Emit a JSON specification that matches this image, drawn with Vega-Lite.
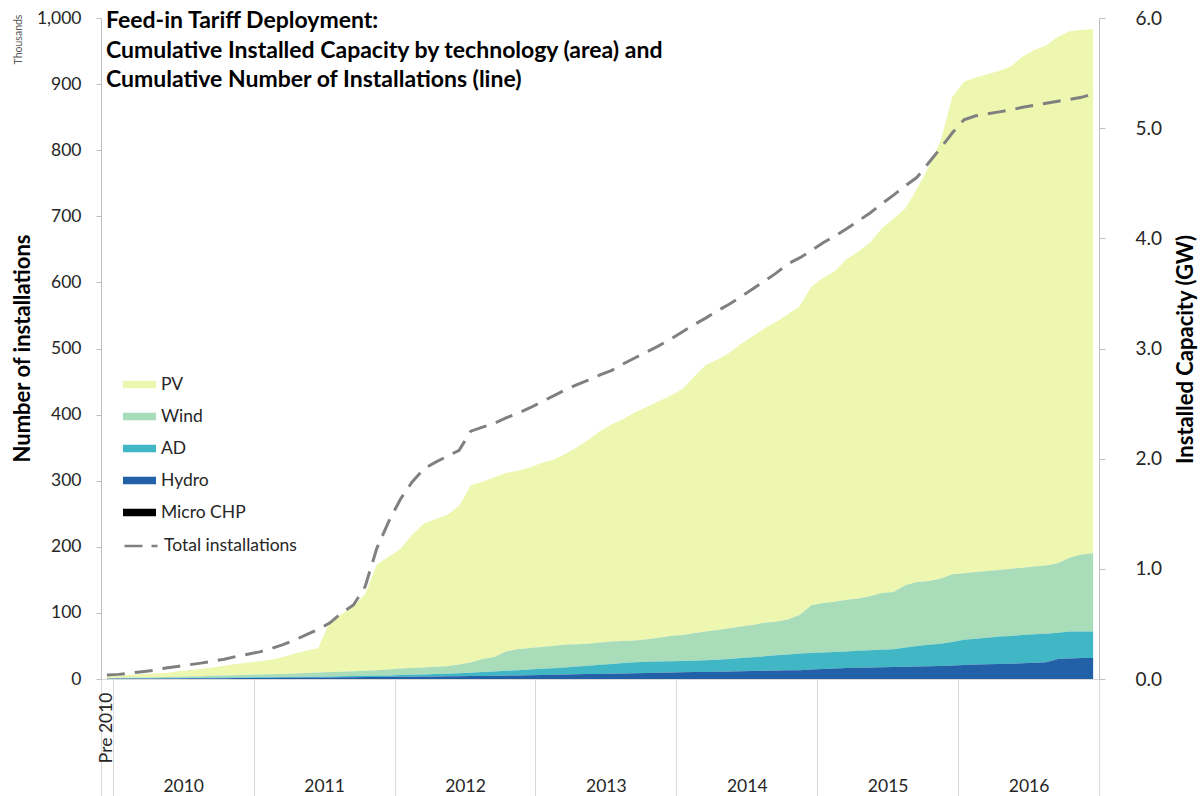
{
  "$schema": "https://vega.github.io/schema/vega-lite/v6.json",
  "width": 998,
  "height": 661,
  "autosize": {"type": "none"},
  "padding": {"left": 101, "top": 18, "right": 102, "bottom": 117},
  "background": "white",
  "title": {
    "text": ["Feed-in Tariff Deployment:", "Cumulative Installed Capacity by technology (area) and", "Cumulative Number of Installations (line)"],
    "anchor": "start", "frame": "group", "orient": "top",
    "font": "Lato", "fontSize": 23, "fontWeight": "bold", "color": "#000000",
    "lineHeight": 29.5, "baseline": "top", "offset": 0, "dx": 5, "dy": 83
  },
  "datasets": {
    "fit": [
      {"t": -0.5, "PV": 0.019, "Wind": 0.004, "AD": 0.002, "Hydro": 0.002, "Micro CHP": 0.0005, "inst": 6},
      {"t": 0.5, "PV": 0.022, "Wind": 0.005, "AD": 0.002, "Hydro": 0.003, "Micro CHP": 0.0005, "inst": 7},
      {"t": 1.5, "PV": 0.026, "Wind": 0.006, "AD": 0.003, "Hydro": 0.003, "Micro CHP": 0.0005, "inst": 9},
      {"t": 2.5, "PV": 0.030, "Wind": 0.008, "AD": 0.002, "Hydro": 0.004, "Micro CHP": 0.0005, "inst": 11},
      {"t": 3.5, "PV": 0.034, "Wind": 0.009, "AD": 0.003, "Hydro": 0.004, "Micro CHP": 0.0005, "inst": 13},
      {"t": 4.5, "PV": 0.037, "Wind": 0.010, "AD": 0.003, "Hydro": 0.005, "Micro CHP": 0.0005, "inst": 16.5},
      {"t": 5.5, "PV": 0.050, "Wind": 0.012, "AD": 0.003, "Hydro": 0.005, "Micro CHP": 0.0005, "inst": 19},
      {"t": 6.5, "PV": 0.058, "Wind": 0.013, "AD": 0.003, "Hydro": 0.006, "Micro CHP": 0.0005, "inst": 21.5},
      {"t": 7.5, "PV": 0.065, "Wind": 0.015, "AD": 0.004, "Hydro": 0.006, "Micro CHP": 0.0005, "inst": 24},
      {"t": 8.5, "PV": 0.077, "Wind": 0.017, "AD": 0.004, "Hydro": 0.007, "Micro CHP": 0.0005, "inst": 27},
      {"t": 9.5, "PV": 0.089, "Wind": 0.019, "AD": 0.005, "Hydro": 0.007, "Micro CHP": 0.0005, "inst": 30},
      {"t": 10.5, "PV": 0.101, "Wind": 0.021, "AD": 0.005, "Hydro": 0.008, "Micro CHP": 0.0005, "inst": 34},
      {"t": 11.5, "PV": 0.113, "Wind": 0.023, "AD": 0.006, "Hydro": 0.008, "Micro CHP": 0.0005, "inst": 37.5},
      {"t": 12.5, "PV": 0.120, "Wind": 0.025, "AD": 0.006, "Hydro": 0.009, "Micro CHP": 0.0005, "inst": 41},
      {"t": 13.5, "PV": 0.132, "Wind": 0.027, "AD": 0.007, "Hydro": 0.009, "Micro CHP": 0.0005, "inst": 46},
      {"t": 14.5, "PV": 0.154, "Wind": 0.029, "AD": 0.007, "Hydro": 0.010, "Micro CHP": 0.0005, "inst": 52},
      {"t": 15.5, "PV": 0.180, "Wind": 0.032, "AD": 0.007, "Hydro": 0.011, "Micro CHP": 0.0005, "inst": 59},
      {"t": 16.5, "PV": 0.201, "Wind": 0.035, "AD": 0.007, "Hydro": 0.012, "Micro CHP": 0.0005, "inst": 67},
      {"t": 17.5, "PV": 0.222, "Wind": 0.038, "AD": 0.007, "Hydro": 0.013, "Micro CHP": 0.0005, "inst": 75},
      {"t": 18.5, "PV": 0.458, "Wind": 0.040, "AD": 0.008, "Hydro": 0.014, "Micro CHP": 0.0005, "inst": 85},
      {"t": 19.5, "PV": 0.524, "Wind": 0.042, "AD": 0.009, "Hydro": 0.015, "Micro CHP": 0.0005, "inst": 100},
      {"t": 20.5, "PV": 0.590, "Wind": 0.044, "AD": 0.010, "Hydro": 0.016, "Micro CHP": 0.0005, "inst": 112},
      {"t": 21.5, "PV": 0.695, "Wind": 0.047, "AD": 0.011, "Hydro": 0.017, "Micro CHP": 0.0005, "inst": 140},
      {"t": 22.5, "PV": 0.960, "Wind": 0.050, "AD": 0.012, "Hydro": 0.018, "Micro CHP": 0.0005, "inst": 198},
      {"t": 23.5, "PV": 1.025, "Wind": 0.053, "AD": 0.013, "Hydro": 0.019, "Micro CHP": 0.0005, "inst": 238},
      {"t": 24.5, "PV": 1.085, "Wind": 0.060, "AD": 0.015, "Hydro": 0.020, "Micro CHP": 0.0005, "inst": 272},
      {"t": 25.5, "PV": 1.21, "Wind": 0.062, "AD": 0.017, "Hydro": 0.021, "Micro CHP": 0.0005, "inst": 298},
      {"t": 26.5, "PV": 1.305, "Wind": 0.064, "AD": 0.019, "Hydro": 0.022, "Micro CHP": 0.0005, "inst": 318},
      {"t": 27.5, "PV": 1.34, "Wind": 0.066, "AD": 0.021, "Hydro": 0.023, "Micro CHP": 0.0005, "inst": 328},
      {"t": 28.5, "PV": 1.375, "Wind": 0.067, "AD": 0.024, "Hydro": 0.024, "Micro CHP": 0.0005, "inst": 337},
      {"t": 29.5, "PV": 1.44, "Wind": 0.078, "AD": 0.027, "Hydro": 0.025, "Micro CHP": 0.0005, "inst": 346},
      {"t": 30.5, "PV": 1.61, "Wind": 0.094, "AD": 0.030, "Hydro": 0.026, "Micro CHP": 0.0005, "inst": 375},
      {"t": 31.5, "PV": 1.61, "Wind": 0.118, "AD": 0.035, "Hydro": 0.027, "Micro CHP": 0.0005, "inst": 381},
      {"t": 32.5, "PV": 1.63, "Wind": 0.132, "AD": 0.040, "Hydro": 0.028, "Micro CHP": 0.0005, "inst": 387},
      {"t": 33.5, "PV": 1.62, "Wind": 0.176, "AD": 0.044, "Hydro": 0.030, "Micro CHP": 0.0005, "inst": 395},
      {"t": 34.5, "PV": 1.62, "Wind": 0.19, "AD": 0.048, "Hydro": 0.032, "Micro CHP": 0.0005, "inst": 402},
      {"t": 35.5, "PV": 1.64, "Wind": 0.194, "AD": 0.052, "Hydro": 0.034, "Micro CHP": 0.0005, "inst": 410},
      {"t": 36.5, "PV": 1.67, "Wind": 0.198, "AD": 0.056, "Hydro": 0.036, "Micro CHP": 0.0005, "inst": 419},
      {"t": 37.5, "PV": 1.69, "Wind": 0.202, "AD": 0.060, "Hydro": 0.038, "Micro CHP": 0.0005, "inst": 428},
      {"t": 38.5, "PV": 1.73, "Wind": 0.205, "AD": 0.065, "Hydro": 0.040, "Micro CHP": 0.0005, "inst": 437},
      {"t": 39.5, "PV": 1.785, "Wind": 0.203, "AD": 0.070, "Hydro": 0.042, "Micro CHP": 0.0005, "inst": 445},
      {"t": 40.5, "PV": 1.85, "Wind": 0.20, "AD": 0.076, "Hydro": 0.044, "Micro CHP": 0.0005, "inst": 452},
      {"t": 41.5, "PV": 1.92, "Wind": 0.202, "AD": 0.082, "Hydro": 0.046, "Micro CHP": 0.0005, "inst": 460},
      {"t": 42.5, "PV": 1.97, "Wind": 0.204, "AD": 0.088, "Hydro": 0.048, "Micro CHP": 0.0005, "inst": 467},
      {"t": 43.5, "PV": 2.015, "Wind": 0.20, "AD": 0.095, "Hydro": 0.050, "Micro CHP": 0.0005, "inst": 477},
      {"t": 44.5, "PV": 2.07, "Wind": 0.198, "AD": 0.10, "Hydro": 0.052, "Micro CHP": 0.0005, "inst": 486},
      {"t": 45.5, "PV": 2.11, "Wind": 0.205, "AD": 0.101, "Hydro": 0.054, "Micro CHP": 0.0005, "inst": 495},
      {"t": 46.5, "PV": 2.145, "Wind": 0.217, "AD": 0.102, "Hydro": 0.056, "Micro CHP": 0.0005, "inst": 504},
      {"t": 47.5, "PV": 2.18, "Wind": 0.23, "AD": 0.102, "Hydro": 0.058, "Micro CHP": 0.0005, "inst": 514},
      {"t": 48.5, "PV": 2.23, "Wind": 0.237, "AD": 0.103, "Hydro": 0.060, "Micro CHP": 0.0005, "inst": 525},
      {"t": 49.5, "PV": 2.325, "Wind": 0.249, "AD": 0.104, "Hydro": 0.062, "Micro CHP": 0.0005, "inst": 536},
      {"t": 50.5, "PV": 2.42, "Wind": 0.26, "AD": 0.106, "Hydro": 0.064, "Micro CHP": 0.0005, "inst": 546},
      {"t": 51.5, "PV": 2.455, "Wind": 0.27, "AD": 0.109, "Hydro": 0.066, "Micro CHP": 0.0005, "inst": 557},
      {"t": 52.5, "PV": 2.50, "Wind": 0.278, "AD": 0.114, "Hydro": 0.068, "Micro CHP": 0.0005, "inst": 567},
      {"t": 53.5, "PV": 2.565, "Wind": 0.285, "AD": 0.12, "Hydro": 0.070, "Micro CHP": 0.0005, "inst": 578},
      {"t": 54.5, "PV": 2.62, "Wind": 0.292, "AD": 0.126, "Hydro": 0.072, "Micro CHP": 0.0005, "inst": 590},
      {"t": 55.5, "PV": 2.67, "Wind": 0.305, "AD": 0.131, "Hydro": 0.074, "Micro CHP": 0.0005, "inst": 602},
      {"t": 56.5, "PV": 2.72, "Wind": 0.305, "AD": 0.139, "Hydro": 0.076, "Micro CHP": 0.0005, "inst": 614},
      {"t": 57.5, "PV": 2.77, "Wind": 0.318, "AD": 0.144, "Hydro": 0.078, "Micro CHP": 0.0005, "inst": 628},
      {"t": 58.5, "PV": 2.80, "Wind": 0.35, "AD": 0.15, "Hydro": 0.080, "Micro CHP": 0.0005, "inst": 637},
      {"t": 59.5, "PV": 2.89, "Wind": 0.434, "AD": 0.151, "Hydro": 0.085, "Micro CHP": 0.0005, "inst": 648},
      {"t": 60.5, "PV": 2.95, "Wind": 0.45, "AD": 0.15, "Hydro": 0.09, "Micro CHP": 0.0005, "inst": 660},
      {"t": 61.5, "PV": 3.00, "Wind": 0.455, "AD": 0.15, "Hydro": 0.095, "Micro CHP": 0.0005, "inst": 670},
      {"t": 62.5, "PV": 3.09, "Wind": 0.47, "AD": 0.15, "Hydro": 0.10, "Micro CHP": 0.0005, "inst": 681},
      {"t": 63.5, "PV": 3.15, "Wind": 0.475, "AD": 0.153, "Hydro": 0.102, "Micro CHP": 0.0005, "inst": 693},
      {"t": 64.5, "PV": 3.21, "Wind": 0.49, "AD": 0.156, "Hydro": 0.104, "Micro CHP": 0.0005, "inst": 705},
      {"t": 65.5, "PV": 3.31, "Wind": 0.515, "AD": 0.159, "Hydro": 0.106, "Micro CHP": 0.0005, "inst": 719},
      {"t": 66.5, "PV": 3.39, "Wind": 0.52, "AD": 0.162, "Hydro": 0.108, "Micro CHP": 0.0005, "inst": 732},
      {"t": 67.5, "PV": 3.42, "Wind": 0.565, "AD": 0.175, "Hydro": 0.110, "Micro CHP": 0.0005, "inst": 746},
      {"t": 68.5, "PV": 3.57, "Wind": 0.58, "AD": 0.188, "Hydro": 0.112, "Micro CHP": 0.0005, "inst": 759},
      {"t": 69.5, "PV": 3.76, "Wind": 0.58, "AD": 0.195, "Hydro": 0.115, "Micro CHP": 0.0005, "inst": 781},
      {"t": 70.5, "PV": 3.97, "Wind": 0.59, "AD": 0.202, "Hydro": 0.118, "Micro CHP": 0.0005, "inst": 803},
      {"t": 71.5, "PV": 4.33, "Wind": 0.615, "AD": 0.213, "Hydro": 0.122, "Micro CHP": 0.0005, "inst": 826},
      {"t": 72.5, "PV": 4.46, "Wind": 0.605, "AD": 0.228, "Hydro": 0.127, "Micro CHP": 0.0005, "inst": 846},
      {"t": 73.5, "PV": 4.49, "Wind": 0.605, "AD": 0.235, "Hydro": 0.130, "Micro CHP": 0.0005, "inst": 852},
      {"t": 74.5, "PV": 4.51, "Wind": 0.605, "AD": 0.242, "Hydro": 0.133, "Micro CHP": 0.0005, "inst": 855},
      {"t": 75.5, "PV": 4.53, "Wind": 0.605, "AD": 0.249, "Hydro": 0.136, "Micro CHP": 0.0005, "inst": 858},
      {"t": 76.5, "PV": 4.56, "Wind": 0.61, "AD": 0.251, "Hydro": 0.139, "Micro CHP": 0.0005, "inst": 861},
      {"t": 77.5, "PV": 4.64, "Wind": 0.61, "AD": 0.258, "Hydro": 0.142, "Micro CHP": 0.0005, "inst": 865},
      {"t": 78.5, "PV": 4.69, "Wind": 0.615, "AD": 0.259, "Hydro": 0.146, "Micro CHP": 0.0005, "inst": 868},
      {"t": 79.5, "PV": 4.72, "Wind": 0.62, "AD": 0.258, "Hydro": 0.152, "Micro CHP": 0.0005, "inst": 871},
      {"t": 80.5, "PV": 4.78, "Wind": 0.63, "AD": 0.24, "Hydro": 0.18, "Micro CHP": 0.0005, "inst": 874},
      {"t": 81.5, "PV": 4.78, "Wind": 0.67, "AD": 0.245, "Hydro": 0.185, "Micro CHP": 0.0005, "inst": 877},
      {"t": 82.5, "PV": 4.76, "Wind": 0.70, "AD": 0.24, "Hydro": 0.19, "Micro CHP": 0.0005, "inst": 880},
      {"t": 83.5, "PV": 4.76, "Wind": 0.71, "AD": 0.24, "Hydro": 0.19, "Micro CHP": 0.0005, "inst": 885}
    ]
  },
  "layer": [
    {
      "data": {"name": "fit"},
      "transform": [
        {"fold": ["PV", "Wind", "AD", "Hydro", "Micro CHP"], "as": ["tech", "gw"]},
        {"lookup": "tech", "from": {"data": {"values": [
          {"tech": "Micro CHP", "ord": 1}, {"tech": "Hydro", "ord": 2}, {"tech": "AD", "ord": 3},
          {"tech": "Wind", "ord": 4}, {"tech": "PV", "ord": 5}]}, "key": "tech", "fields": ["ord"]}}
      ],
      "mark": {"type": "area", "interpolate": "linear", "opacity": 1},
      "encoding": {
        "x": {
          "field": "t", "type": "quantitative",
          "scale": {"domain": [-1, 84], "nice": false, "zero": false},
          "axis": {
            "orient": "bottom", "title": null, "grid": false,
            "values": [-1, 0, 6, 12, 18, 24, 30, 36, 42, 48, 54, 60, 66, 72, 78, 84],
            "labelExpr": "(datum.value - 6) % 12 == 0 ? '' + (2010 + (datum.value - 6) / 12) : ''",
            "tickSize": 117, "tickColor": "#d9d9d9", "tickWidth": 1,
            "tickOpacity": {"condition": {"test": "(datum.value - 6) % 12 == 0", "value": 0}, "value": 1},
            "domainColor": "#d9d9d9",
            "labelPadding": -19, "labelAngle": 0, "labelBaseline": "top", "labelAlign": "center",
            "labelFont": "Lato", "labelFontSize": 17.5, "labelColor": "#262626",
            "labelFlush": false, "labelOverlap": false, "labelBound": false
          }
        },
        "y": {
          "field": "gw", "type": "quantitative", "stack": "zero",
          "scale": {"domain": [0, 6], "nice": false},
          "axis": {
            "orient": "right", "values": [0, 1, 2, 3, 4, 5, 6], "format": ".1f", "grid": false,
            "tickSize": 6, "tickColor": "#bfbfbf", "domainColor": "#bfbfbf",
            "labelPadding": 30, "labelFont": "Lato", "labelFontSize": 19, "labelColor": "#262626",
            "title": "Installed Capacity (GW)", "titleFont": "Lato", "titleFontSize": 22, "titleFontWeight": "bold",
            "titleColor": "#000000", "titleAngle": 270, "titleX": 86, "titleY": 331,
            "titleAlign": "center", "titleBaseline": "middle"
          }
        },
        "color": {
          "field": "tech", "type": "nominal",
          "scale": {"domain": ["PV", "Wind", "AD", "Hydro", "Micro CHP"],
                    "range": ["#edf7b0", "#a9dcb8", "#41b6c4", "#2260a8", "#000000"]},
          "legend": {
            "orient": "none", "legendX": 22, "legendY": 350, "title": null, "padding": 0,
            "symbolType": "M-1,-0.22H1V0.22H-1Z", "symbolSize": 1089, "symbolStrokeWidth": 0, "symbolOpacity": 1,
            "labelFont": "Lato", "labelFontSize": 17.5, "labelColor": "#262626", "labelOffset": 5, "rowPadding": 7
          }
        },
        "order": {"field": "ord", "type": "quantitative"}
      }
    },
    {
      "data": {"name": "fit"},
      "mark": {"type": "line", "strokeWidth": 3, "strokeDash": [18, 10]},
      "encoding": {
        "x": {
          "field": "t", "type": "quantitative",
          "axis": {
            "orient": "bottom", "title": null, "grid": false, "values": [-0.5],
            "labelExpr": "'Pre 2010'", "labelAngle": 270, "labelAlign": "right", "labelBaseline": "middle",
            "ticks": false, "tickSize": 0, "domain": false, "labelPadding": 13,
            "labelFont": "Lato", "labelFontSize": 17.5, "labelColor": "#262626",
            "labelFlush": false, "labelOverlap": false, "labelBound": false
          }
        },
        "y": {
          "field": "inst", "type": "quantitative",
          "scale": {"domain": [0, 1000], "nice": false},
          "axis": {
            "orient": "left", "values": [0, 100, 200, 300, 400, 500, 600, 700, 800, 900, 1000], "format": ",d", "grid": false,
            "tickSize": 5, "tickColor": "#bfbfbf", "domainColor": "#bfbfbf",
            "labelPadding": 15, "labelFont": "Lato", "labelFontSize": 17.5, "labelColor": "#262626",
            "title": "Number of installations", "titleFont": "Lato", "titleFontSize": 22, "titleFontWeight": "bold",
            "titleColor": "#000000", "titleAngle": 270, "titleX": -79, "titleY": 330,
            "titleAlign": "center", "titleBaseline": "middle"
          }
        },
        "color": {
          "datum": "Total installations",
          "scale": {"range": ["#808080"]},
          "legend": {
            "orient": "none", "legendX": 22, "legendY": 510, "title": null, "padding": 0,
            "symbolType": "stroke", "symbolSize": 1089, "symbolStrokeWidth": 2.5, "symbolDash": [18, 9],
            "labelFont": "Lato", "labelFontSize": 17.5, "labelColor": "#262626", "labelOffset": 5
          }
        }
      }
    },
    {
      "data": {"name": "fit"},
      "mark": {"type": "line", "opacity": 0},
      "encoding": {
        "x": {"field": "t", "type": "quantitative", "axis": null},
        "y": {
          "field": "inst", "type": "quantitative",
          "axis": {
            "orient": "left", "labels": false, "ticks": false, "domain": false, "grid": false,
            "title": "Thousands", "titleFont": "Lato", "titleFontSize": 10.5, "titleFontWeight": "normal",
            "titleColor": "#595959", "titleAngle": 270, "titleX": -83, "titleY": 21,
            "titleAlign": "center", "titleBaseline": "middle"
          }
        }
      }
    }
  ],
  "resolve": {
    "scale": {"y": "independent", "color": "independent"},
    "axis": {"x": "independent", "y": "independent"}
  },
  "config": {"view": {"stroke": null}, "font": "Lato"}
}
